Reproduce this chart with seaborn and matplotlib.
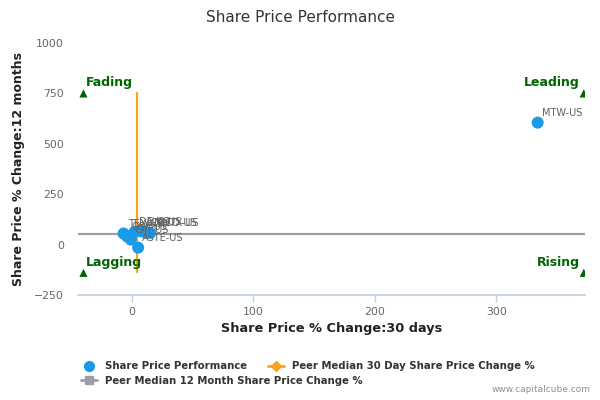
import numpy as np
import pandas as pd
import matplotlib
matplotlib.use("Agg")
import matplotlib.pyplot as plt
from matplotlib.lines import Line2D
import seaborn as sns

# data
tickers = ["MTW-US", "TEX-US", "OSK-US", "CAT-US", "DE-US", "ALG-US", "CMCO-US", "MNTX-US", "ASTE-US"]
change_30d = [334, -7, -4, -1, 2, 8, 12, 15, 5]
change_12m = [605, 55, 40, 25, 62, 65, 60, 58, -15]

peer_median_30d = 4
peer_median_12m = 52

quadrant_names = ["Fading", "Leading", "Lagging", "Rising"]
quadrant_x = [-40, 372, -40, 372]
quadrant_y = [750, 750, -140, -140]

x_ticks = [0, 100, 200, 300]
y_ticks = [-250, 0, 250, 500, 750, 1000]

blue = "#1a9bea"
orange = "#f7a51c"
grey = "#9a9ea6"
green = "#006400"

sns.set_theme(style="white")
plt.rcParams['font.family'] = ['DejaVu Sans']

df = pd.DataFrame({"ticker": tickers, "x": change_30d, "y": change_12m})
quad = pd.DataFrame({"name": quadrant_names, "x": quadrant_x, "y": quadrant_y})

fig, ax = plt.subplots(figsize=(6, 4), dpi=100)
fig.subplots_adjust(left=0.13, right=0.975, top=0.8925, bottom=0.2625)

xmin, xmax = -44.5, 373
ymin, ymax = -250, 1000

# peer median lines
ax.plot([xmin, xmax], [peer_median_12m, peer_median_12m], color=grey, lw=1.6, zorder=1)
ax.plot([peer_median_30d, peer_median_30d], [min(quadrant_y) + 5, max(quadrant_y)],
        color=orange, lw=1.6, zorder=2)

# points
sns.scatterplot(data=df, x="x", y="y", color=blue, s=75, edgecolor="none", ax=ax, zorder=3, legend=False)
for _, r in df.iterrows():
    ax.annotate(r["ticker"], (r["x"], r["y"]), xytext=(3, 5), textcoords="offset points",
                fontsize=7, color="#606060", zorder=4)

# quadrant markers
sns.scatterplot(data=quad, x="x", y="y", marker="^", color=green, s=35, edgecolor="none",
                ax=ax, zorder=3, legend=False)
for _, r in quad.iterrows():
    if r["x"] < 0:
        ax.annotate(r["name"], (r["x"], r["y"]), xytext=(2, 5), textcoords="offset points",
                    fontsize=9, color=green, fontweight="bold", ha="left")
    else:
        ax.annotate(r["name"], (r["x"], r["y"]), xytext=(-3, 5), textcoords="offset points",
                    fontsize=9, color=green, fontweight="bold", ha="right")

ax.set_xlim(xmin, xmax)
ax.set_ylim(ymin, ymax)
ax.set_xticks(x_ticks)
ax.set_yticks(y_ticks)
ax.tick_params(axis="x", colors="#c0d0e0", length=5, width=1, labelcolor="#666666", labelsize=7.8, direction="out", bottom=True)
ax.tick_params(axis="y", length=0, labelcolor="#666666", labelsize=7.8, pad=10)
for side in ["top", "right", "left"]:
    ax.spines[side].set_visible(False)
ax.spines["bottom"].set_color("#c0d0e0")
ax.spines["bottom"].set_position(("data", ymin))

ax.set_xlabel("Share Price % Change:30 days", fontsize=9.3, fontweight="bold", color="#222222", labelpad=4)
ax.set_ylabel("Share Price % Change:12 months", fontsize=9, fontweight="bold", color="#222222", labelpad=7)
fig.suptitle("Share Price Performance", x=0.5, y=0.975, fontsize=11, color="#333333")

# legend, two rows like the reference
h_perf = Line2D([], [], marker="o", color=blue, lw=0, markersize=7)
h_30 = Line2D([], [], marker="D", color=orange, lw=2, markersize=5)
h_12 = Line2D([], [], marker="s", color=grey, lw=2, markersize=6)
leg_kw = dict(loc="upper left", frameon=False, fontsize=7.3, handlelength=1.6,
              columnspacing=2.0, handletextpad=0.8, borderaxespad=0, borderpad=0)
leg1 = fig.legend([h_perf, h_30], ["Share Price Performance", "Peer Median 30 Day Share Price Change %"],
                  bbox_to_anchor=(0.135, 0.097), ncol=2, **leg_kw)
leg2 = fig.legend([h_12], ["Peer Median 12 Month Share Price Change %"],
                  bbox_to_anchor=(0.135, 0.060), ncol=1, **leg_kw)
for leg in (leg1, leg2):
    for t in leg.get_texts():
        t.set_fontweight("bold")
        t.set_color("#333333")

fig.text(0.985, 0.015, "www.capitalcube.com", fontsize=6.5, color="#909090", ha="right", va="bottom")

fig.savefig("out.png", dpi=100)
